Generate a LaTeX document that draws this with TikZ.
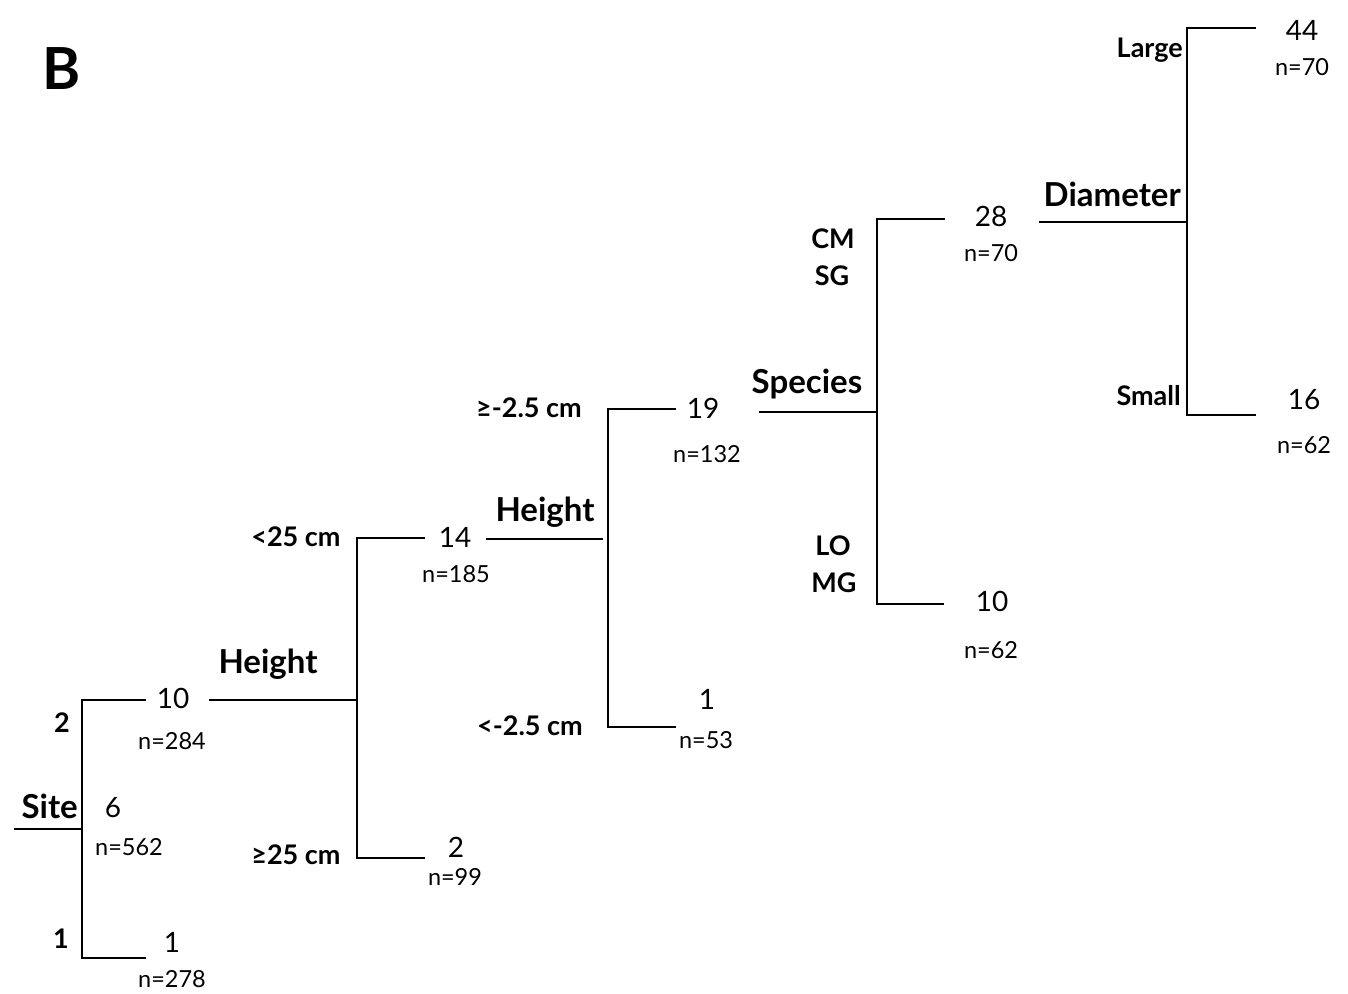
\documentclass[tikz,border=0pt]{standalone}
\usepackage{fontspec}
\setmainfont{Lato}
\begin{document}
\begin{tikzpicture}[x=1pt,y=-1pt,
  branch/.style={line width=2.2pt, line cap=rect},
  num/.style={anchor=base, inner sep=0pt, font=\fontsize{28}{30}\selectfont},
  cnt/.style={anchor=base, inner sep=0pt, font=\fontsize{23.5}{25}\selectfont},
  var/.style={anchor=base, inner sep=0pt, font=\bfseries\fontsize{33}{35}\selectfont},
  cond/.style={anchor=base, inner sep=0pt, font=\bfseries\fontsize{27}{29}\selectfont},
  title/.style={anchor=base, inner sep=0pt, font=\bfseries\fontsize{58}{60}\selectfont}]
\useasboundingbox (0,0) rectangle (1348,993);
\fill[white] (0,0) rectangle (1348,993);

% panel label
\node[title] (B) at (62,89) {B};

% ---- Site split
\coordinate (r0) at (15,829);
\coordinate (v0) at (82,829);
\coordinate (a2) at (145,700);
\coordinate (a1) at (145,958);
\draw[branch] (r0) -- (v0);
\draw[branch] (a2) -| (v0) |- (a1);
\node[var, anchor=base east] (site) at (78,818) {Site};
\node[num] (root) at (113,817) {6};
\node[cnt] (nroot) at (129,855) {n=562};
\node[cond] (s2) at (62,732) {2};
\node[cond] (s1) at (61,948) {1};
\node[num] (l10) at (173,708) {10};
\node[cnt] (n284) at (172,749) {n=284};
\node[num] (l1a) at (172,952) {1};
\node[cnt] (n278) at (172,987) {n=278};

% ---- Height split 1
\coordinate (h1s) at (210,700);
\coordinate (h1j) at (357,700);
\coordinate (b2) at (424,538);
\coordinate (b1) at (424,858);
\draw[branch] (h1s) -- (h1j);
\draw[branch] (b2) -| (h1j) |- (b1);
\node[var] (height1) at (268,673) {Height};
\node[cond] (lt25) at (296,546) {<25 cm};
\node[cond] (ge25) at (296,864) {≥25 cm};
\node[num] (l14) at (455,547) {14};
\node[cnt] (n185) at (456,582) {n=185};
\node[num] (l2) at (456,857) {2};
\node[cnt] (n99) at (455,885) {n=99};

% ---- Height split 2
\coordinate (h2s) at (487,539);
\coordinate (h2e) at (602,539);
\coordinate (h2j) at (608,539);
\coordinate (c2) at (675,409);
\coordinate (c1) at (675,727);
\draw[branch] (h2s) -- (h2e);
\draw[branch] (c2) -| (h2j) |- (c1);
\node[var] (height2) at (545,521) {Height};
\node[cond] (ge25b) at (529,417) {≥-2.5 cm};
\node[cond] (lt25b) at (530,735) {<-2.5 cm};
\node[num] (l19) at (703,418) {19};
\node[cnt] (n132) at (707,462) {n=132};
\node[num] (l1b) at (707,709) {1};
\node[cnt] (n53) at (706,748) {n=53};

% ---- Species split
\coordinate (sps) at (760,412);
\coordinate (spj) at (877,412);
\coordinate (d2) at (944,219);
\coordinate (d1) at (943,604);
\draw[branch] (sps) -- (spj);
\draw[branch] (d2) -| (spj) |- (d1);
\node[var] (species) at (807,393) {Species};
\node[cond] (cm) at (833,248) {CM};
\node[cond] (sg) at (832,285) {SG};
\node[cond] (lo) at (833,555) {LO};
\node[cond] (mg) at (834,592) {MG};
\node[num] (l28) at (991,226) {28};
\node[cnt] (n70a) at (991,261) {n=70};
\node[num] (l10b) at (992,611) {10};
\node[cnt] (n62a) at (991,658) {n=62};

% ---- Diameter split
\coordinate (dms) at (1040,222);
\coordinate (dmj) at (1187,222);
\coordinate (e2) at (1255,28);
\coordinate (e1) at (1255,415);
\draw[branch] (dms) -- (dmj);
\draw[branch] (e2) -| (dmj) |- (e1);
\node[var, anchor=base east] (diam) at (1181,206) {Diameter};
\node[cond, anchor=base east] (large) at (1183,57) {Large};
\node[cond, anchor=base east] (small) at (1181,405) {Small};
\node[num] (l44) at (1302,40) {44};
\node[cnt] (n70b) at (1302,75) {n=70};
\node[num] (l16) at (1304,409) {16};
\node[cnt] (n62b) at (1304,453) {n=62};
\end{tikzpicture}
\end{document}
